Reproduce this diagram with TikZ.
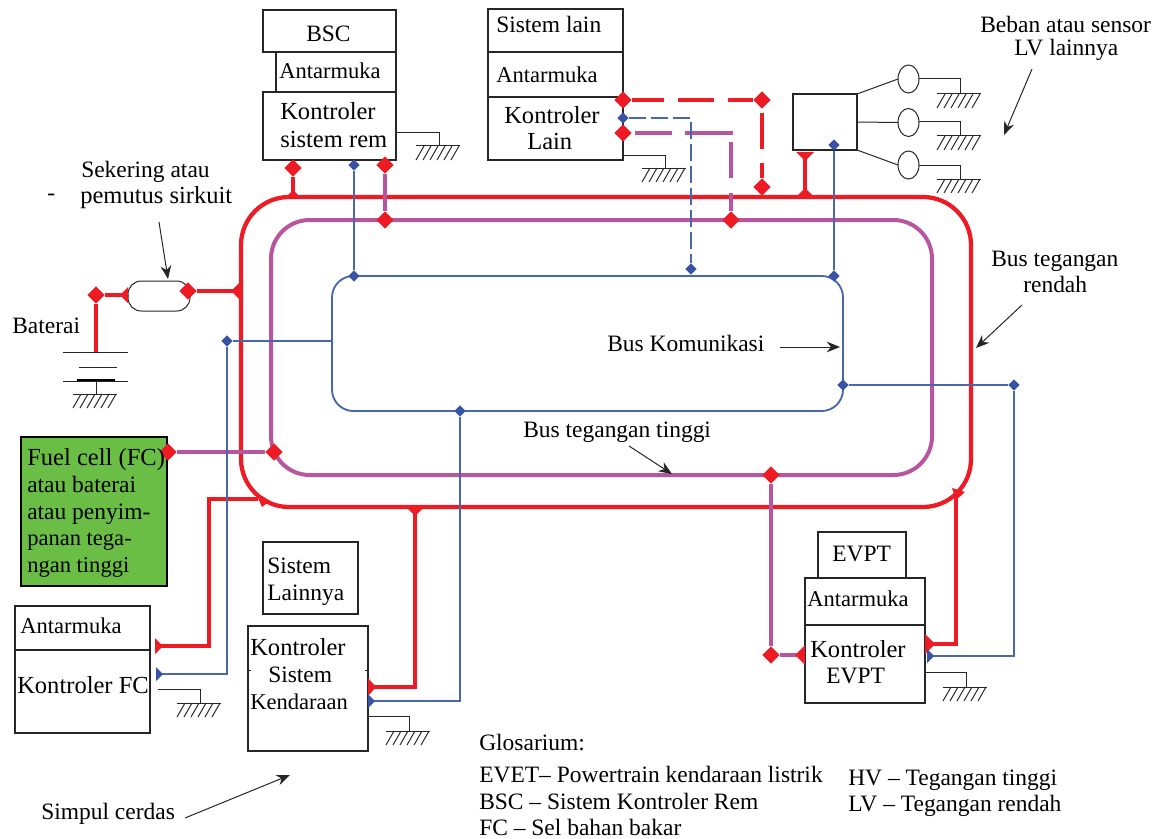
\documentclass[tikz,border=0pt]{standalone}
\usepackage{fontspec}
\setmainfont{Liberation Serif}
\usetikzlibrary{arrows.meta,shapes.geometric}
\definecolor{lvred}{HTML}{ED1C24}
\definecolor{hvpurple}{HTML}{B8559F}
\definecolor{canblue}{HTML}{4A66AF}
\definecolor{dotblue}{HTML}{3953A4}
\definecolor{fcgreen}{HTML}{6ABD45}
\tikzset{
  lbl/.style={font=\fontsize{17.6}{20}\selectfont,inner sep=0pt,anchor=base west,align=left},
  lblbig/.style={lbl,font=\fontsize{18.4}{20}\selectfont},
  lblsmall/.style={lbl,font=\fontsize{16.9}{20}\selectfont},
  box/.style={draw=black!85,line width=.9pt,fill=white,inner sep=0pt,outer sep=0pt,anchor=north west},
  sz/.style 2 args={minimum width=#1*0.75pt,minimum height=#2*0.75pt},
  wire/.style={draw=black!85,line width=.75pt},
  note/.style={draw=black!85,line width=.75pt,-{Stealth[length=10pt,width=8pt]}},
  redline/.style={draw=lvred,line width=3.2pt},
  hvline/.style={draw=hvpurple,line width=3pt},
  canline/.style={draw=canblue,line width=1.4pt},
  reddot/.style={diamond,fill=lvred,inner sep=0pt,minimum size=13pt},
  bluedot/.style={diamond,fill=dotblue,inner sep=0pt,minimum size=8.5pt},
  ground/.pic={
    \draw[wire] (-23,0) -- (21,0);
    \foreach \h in {-15,-8,-1,6,13,20} {\draw[wire] (\h,0) -- ++(-8,14);}
  }
}
\begin{document}
\begin{tikzpicture}[x=0.75pt,y=-0.75pt]
\useasboundingbox (0,0) rectangle (1162,838);

% the three buses
\node[box,fill=none,draw=canblue,line width=1.4pt,sz={511}{135},rounded corners=16pt] (can) at (332,276) {};
\node[box,fill=none,draw=hvpurple,line width=3pt,sz={661}{255},rounded corners=29pt] (hv) at (271,220) {};
\node[box,fill=none,draw=lvred,line width=3.2pt,sz={730}{310},rounded corners=36pt] (lv) at (241,197) {};

% boxes
\node[box,sz={133}{42}] (bsc) at (263,10) {};
\node[box,sz={120}{40}] (bscif) at (276,52) {};
\node[box,sz={133}{68}] (bsck) at (263,92) {};
\node[box,sz={135}{43}] (lain) at (488,9) {};
\node[box,sz={135}{45}] (lainif) at (488,52) {};
\node[box,sz={135}{63}] (laink) at (488,97) {};
\node[box,sz={64}{56}] (lvbox) at (793,94) {};
\node[box,draw=black,line width=1.6pt,fill=fcgreen,sz={146}{149}] (fc) at (21,437) {};
\node[box,sz={135}{44}] (fcif) at (15,606) {};
\node[box,sz={135}{83}] (fck) at (15,650) {};
\node[box,sz={95}{72}] (sys) at (263,542) {};
\node[box,sz={120}{125}] (veh) at (248,626) {};
\node[box,sz={88}{46}] (evpt) at (818,532) {};
\node[box,sz={120}{47}] (evif) at (805,578) {};
\node[box,sz={120}{78}] (evk) at (805,625) {};
\draw[wire] (248,670) -- ++(3,0);
\draw[wire] (368,670) -- ++(-3,0);
\node[box,sz={62}{30},rounded corners=10pt,line width=.75pt] (fuse) at (128,281) {};

% loads on the low voltage box
\node[ellipse,wire,fill=white,inner sep=0pt,outer sep=0pt,sz={21}{28}] (load1) at (908.5,79) {};
\node[ellipse,wire,fill=white,inner sep=0pt,outer sep=0pt,sz={21}{28}] (load2) at (908.5,122.5) {};
\node[ellipse,wire,fill=white,inner sep=0pt,outer sep=0pt,sz={21}{28}] (load3) at (908.5,165) {};
\draw[wire] (lvbox.north east) -- (load1.west);
\draw[wire] (lvbox.east) -- (load2.west);
\draw[wire] (lvbox.south east) -- (load3.west);

% grounds
\foreach \sx/\sy/\gx/\gy [count=\i] in {396/133/439/146,623/155/665/168,919/79/960/94,919/122/960/136,919/165/960/179,158/689/200/703,368/716/409/731,925/672/966/687} {
  \coordinate (gs\i) at (\sx,\sy);
  \coordinate (gd\i) at (\gx,\gy);
  \draw[wire] (gs\i) -| (gd\i);
  \pic at (gd\i) {ground};
}

% battery
\coordinate (batp) at (96,352);
\coordinate (batg) at (96,394);
\draw[wire] (63,352) -- (128,352);
\draw[wire] (79,367) -- (117,367);
\draw[wire] (63,381) -- (128,381);
\draw[line width=1.5pt] (77,380) -- (115,380);
\draw[wire] (96,381) -- (batg);
\pic at (batg) {ground};

% junction dots
\node[reddot] (bscr) at (293,168) {};
\node[reddot] (bsch) at (385,165) {};
\node[reddot] (hvtop) at (385,220) {};
\node[bluedot] (bscc) at (354,165) {};
\node[bluedot] (cantop) at (354,276) {};
\node[reddot] (batr) at (96,295) {};
\node[reddot] (fuser) at (188,291) {};
\node[bluedot] (canleft) at (227,341) {};
\node[reddot] (fcout) at (168,452) {};
\node[reddot] (fchv) at (274,452) {};
\node[bluedot] (vehc) at (460,411) {};
\node[reddot] (hvev) at (771,475) {};
\node[reddot] (evh) at (771,655) {};
\node[bluedot] (canright) at (843,385) {};
\node[bluedot] (canfar) at (1014,385) {};
\node[reddot] (lainr) at (623,100) {};
\node[reddot] (lainre) at (762,100) {};
\node[reddot] (lainrb) at (762,187) {};
\node[bluedot] (lainc) at (623,118) {};
\node[bluedot] (laince) at (691,269) {};
\node[reddot] (lainh) at (623,133) {};
\node[reddot] (lainhe) at (731,220) {};
\node[bluedot] (lvc) at (834,145) {};
\node[bluedot] (lvcb) at (834,276) {};

% low voltage connectors
\coordinate (fuseb) at (240,291);
\coordinate (fuseb2) at (128,295);
\coordinate (fcr) at (155,646);
\coordinate (fcrc) at (209,646);
\coordinate (fcrb) at (258,499);
\coordinate (vehr) at (368,687);
\coordinate (vehrb) at (415,507);
\coordinate (evr) at (925,644);
\coordinate (evrb) at (956,492);
\coordinate (lvr) at (805,152);
\draw[redline] (bscr) -- (bscr |- lv.north);
\draw[redline] (batr) -- (batp);
\draw[redline] (batr) -- (fuseb2);
\draw[redline] (fuser) -- (fuseb);
\draw[redline] (fcr) -- (fcrc) |- (fcrb);
\draw[redline] (vehr) -| (vehrb);
\draw[redline] (evr) -| (evrb);
\draw[redline] (lvr) -- (lvr |- lv.north);
\draw[redline,dash pattern=on 27pt off 10.5pt,dash phase=3pt] (lainr) -- (lainre);
\draw[redline,dash pattern=on 27pt off 10.5pt,dash phase=34.5pt] (lainre) -- (lainrb);

% high voltage connectors
\coordinate (evhr) at (805,655);
\draw[hvline] (bsch) -- (hvtop);
\draw[hvline] (fcout) -- (fchv);
\draw[hvline] (hvev) -- (evh) -- (evhr);
\draw[hvline,dash pattern=on 0pt off 2.25pt on 27.75pt off 9.75pt on 36pt off 5.25pt on 27pt off 11.25pt on 20pt off 20pt] (lainh) -| (lainhe);

% communication connectors
\coordinate (fcc) at (156,674);
\coordinate (canwest) at (can.west |- canleft);
\coordinate (vehcs) at (368,701);
\coordinate (evc) at (927,656);
\draw[canline] (bscc) -- (cantop);
\draw[canline] (canwest) -- (canleft) |- (fcc);
\draw[canline] (vehcs) -| (vehc);
\draw[canline] (canright) -- (canfar) |- (evc);
\draw[canline] (lvc) -- (lvcb);
\draw[canline,dash pattern=on 12.75pt off 3.75pt] (lainc) -| (laince);

% half dots where a line meets a box or a bus
\fill[lvred] (fuseb2) ++(0,-8) -- ++(-8,8) -- ++(8,8) -- cycle;
\fill[lvred] (fuseb) ++(0,-9) -- ++(-9,9) -- ++(9,9) -- cycle;
\fill[lvred] (fcr) ++(0,-8) -- ++(8,8) -- ++(-8,8) -- cycle;
\fill[dotblue] (fcc) ++(0,-7) -- ++(7,7) -- ++(-7,7) -- cycle;
\fill[lvred] (vehr) ++(0,-9) -- ++(8,9) -- ++(-8,9) -- cycle;
\fill[dotblue] (vehcs) ++(0,-7) -- ++(7,7) -- ++(-7,7) -- cycle;
\fill[lvred] (evr) ++(0,-10) -- ++(10,10) -- ++(-10,10) -- cycle;
\fill[dotblue] (evc) ++(0,-7) -- ++(7,7) -- ++(-7,7) -- cycle;
\fill[lvred] (evhr) ++(0,-10) -- ++(-10,10) -- ++(10,10) -- cycle;
\fill[lvred] (lvr) ++(-9,0) -- ++(18,0) -- ++(-9,9) -- cycle;
\fill[lvred] (lvr |- lv.north) ++(-9,0) -- ++(9,-9) -- ++(9,9) -- cycle;
\fill[lvred] (vehrb) ++(-9,0) -- ++(18,0) -- ++(-9,9) -- cycle;
\fill[lvred] (bscr |- lv.north) ++(-7,0) -- ++(7,-7) -- ++(7,7) -- cycle;
\fill[lvred] (evrb) ++(-4,-4) -- ++(13,4) -- ++(-9,8) -- cycle;
\fill[lvred] (fcrb) ++(0,-1) -- ++(4,-2) -- ++(8,5) -- ++(-8,6) -- cycle;

% texts
\node[lbl] (tbsc) at (306,42) {BSC};
\node[lblsmall] (tbscif) at (279,79) {Antarmuka};
\node[lblbig] (tbsck) at (280,120) {Kontroler};
\node[lblbig] (tbsck2) at (280,147) {sistem rem};
\node[lbl] (tlain) at (496,33) {Sistem lain};
\node[lblsmall] (tlainif) at (496,83) {Antarmuka};
\node[lblbig] (tlaink) at (504,123) {Kontroler};
\node[lblbig] (tlaink2) at (527,150) {Lain};
\node[lbl] (tload) at (980,33) {Beban atau sensor};
\node[lbl] (tload2) at (1014,56) {LV lainnya};
\node[lbl] (tlv) at (991,266) {Bus tegangan};
\node[lbl] (tlv2) at (1023,292) {rendah};
\node[lbl] (tfuse) at (81,177) {Sekering atau};
\node[lblbig] (tfuse2) at (80,203) {pemutus sirkuit};
\node[lbl] (tdash) at (47,200) {-};
\node[lbl] (tbat) at (12,333) {Baterai};
\node[lbl] (tcan) at (607,351) {Bus Komunikasi};
\node[lbl] (thv) at (523,437) {Bus tegangan tinggi};
\node[lblbig] (tfc) at (27,465) {Fuel cell (FC)};
\node[lbl] (tfc2) at (27,492) {atau baterai};
\node[lbl] (tfc3) at (27,519) {atau penyim-};
\node[lblsmall] (tfc4) at (27,545) {panan tega-};
\node[lblsmall] (tfc5) at (27,572) {ngan tinggi};
\node[lblsmall] (tfcif) at (20,633) {Antarmuka};
\node[lblbig] (tfck) at (17,693) {Kontroler FC};
\node[lbl] (tsys) at (267,573) {Sistem};
\node[lbl] (tsys2) at (267,600) {Lainnya};
\node[lblbig] (tveh) at (250,655) {Kontroler};
\node[lbl] (tveh2) at (268,682) {Sistem};
\node[lblsmall] (tveh3) at (250,709) {Kendaraan};
\node[lbl] (tnode) at (41,819) {Simpul cerdas};
\node[lbl] (tevpt) at (832,561) {EVPT};
\node[lblsmall] (tevif) at (807,606) {Antarmuka};
\node[lblbig] (tevk) at (810,657) {Kontroler};
\node[lbl] (tevk2) at (826,683) {EVPT};
\node[lbl] (tglo) at (479,750) {Glosarium:};
\node[lbl] (tglo1) at (479,782) {EVET-- Powertrain kendaraan listrik};
\node[lbl] (tglo2) at (479,809) {BSC -- Sistem Kontroler Rem};
\node[lbl] (tglo3) at (479,835) {FC -- Sel bahan bakar};
\node[lbl] (tglo4) at (848,785) {HV -- Tegangan tinggi};
\node[lbl] (tglo5) at (848,811) {LV -- Tegangan rendah};

% pointer arrows
\coordinate (pfuse) at (159,222);
\coordinate (pfuse2) at (168,279);
\coordinate (pload) at (1032,69);
\coordinate (pload2) at (1004,135);
\coordinate (plv) at (1022,305);
\coordinate (plv2) at (976,348);
\coordinate (pcan) at (780,347);
\coordinate (pcan2) at (840,347);
\coordinate (phv) at (629,446);
\coordinate (phv2) at (672,474);
\coordinate (pnode) at (185,818);
\coordinate (pnode2) at (290,775);
\draw[note] (pfuse) -- (pfuse2);
\draw[note] (pload) -- (pload2);
\draw[note] (plv) -- (plv2);
\draw[note] (pcan) -- (pcan2);
\draw[note] (phv) -- (phv2);
\draw[note] (pnode) -- (pnode2);
\end{tikzpicture}
\end{document}
